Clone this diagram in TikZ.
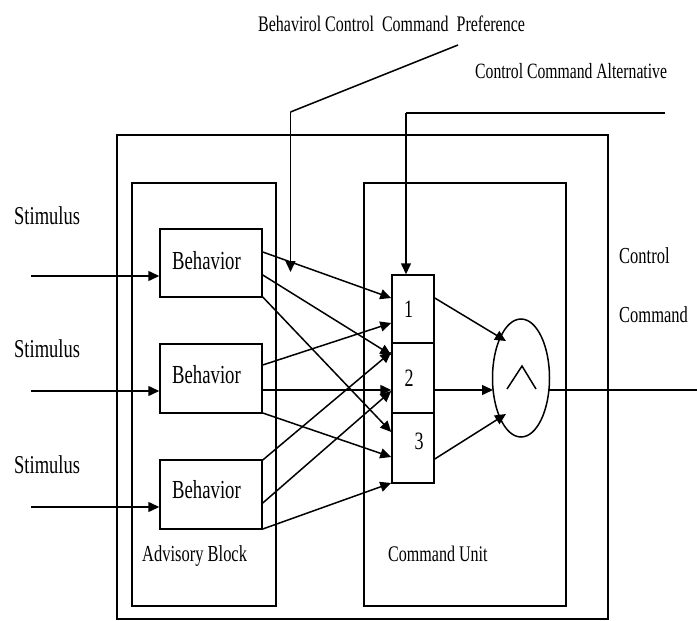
\documentclass[tikz,border=0pt]{standalone}
\usepackage{fontspec}
\setmainfont{Liberation Serif}[FakeStretch=0.72]
\usetikzlibrary{arrows.meta,calc,shapes.geometric}
\begin{document}
\begin{tikzpicture}[x=1pt,y=-1pt,
  ln/.style={line width=1.5pt,draw=black},
  arr/.style={ln,-{Triangle[length=11pt,width=10pt]}},
  boxx/.style={ln,rectangle,inner sep=0pt,minimum width=#1},
  txt/.style={inner sep=0pt,anchor=base west,font=\fontsize{#1}{#1}\selectfont,text=black}
]
\useasboundingbox (0,0) rectangle (697,621);
% containers
\node[boxx=491pt,minimum height=484pt] (outer) at (362.5,377) {};
\node[boxx=144pt,minimum height=423pt] (adv) at (204,394.5) {};
\node[boxx=202pt,minimum height=423pt] (cmd) at (465,394.5) {};
% behavior boxes
\node[boxx=102pt,minimum height=68pt] (b1) at (211,263) {};
\node[boxx=102pt,minimum height=69pt] (b2) at (211,378.5) {};
\node[boxx=102pt,minimum height=69pt] (b3) at (211,494.5) {};
% numbered boxes
\node[boxx=42pt,minimum height=68pt] (n1) at (413,309) {};
\node[boxx=42pt,minimum height=70pt] (n2) at (413,378) {};
\node[boxx=42pt,minimum height=70pt] (n3) at (413,448) {};
% ellipse
\node[ln,ellipse,inner sep=0pt,minimum width=57pt,minimum height=118pt] (and) at (521,378) {};
\draw[ln] ($(and)+(-14,11)$) -- ($(and)+(1,-12)$) -- ($(and)+(15,11)$);
% texts
\node[txt=25.7] (st1) at (14,224) {Stimulus};
\node[txt=25.7] (st2) at (14,357) {Stimulus};
\node[txt=25.7] (st3) at (14,473) {Stimulus};
\node[txt=26] (bt1) at (172,269) {Behavior};
\node[txt=26] (bt2) at (172,383) {Behavior};
\node[txt=26] (bt3) at (172,498) {Behavior};
\node[txt=22.9] (advt) at (142,561) {Advisory Block};
\node[txt=22.3] (cmdt) at (388,561) {Command Unit};
\node[txt=22.9] (cc1) at (619,263) {Control};
\node[txt=22.9] (cc2) at (619,322) {Command};
\node[txt=22.2] (pref) at (258,31) {Behavirol Control\ \ Command\ \ Preference};
\node[txt=21.8] (alt) at (475,78) {Control Command Alternative};
\node[txt=25] (t1) at (404,317) {1};
\node[txt=25] (t2) at (404.5,386) {2};
\node[txt=25] (t3) at (414.5,449) {3};
% stimulus arrows
\coordinate (s1) at (31,276);
\coordinate (s2) at (31,391);
\coordinate (s3) at (31,507);
\draw[arr] (s1) -- (b1.west |- s1);
\draw[arr] (s2) -- (b2.west |- s2);
\draw[arr] (s3) -- (b3.west |- s3);
% behavior -> command arrows
\draw[arr] (b1.east |- 0,252) -- (n1.west |- 0,298);
\draw[arr] (b1.east |- 0,275) -- (n1.west |- 0,355);
\draw[arr] (b1.east |- 0,297) -- (n1.west |- 0,432);
\draw[arr] (b2.east |- 0,365) -- (n1.west |- 0,323);
\draw[arr] (b2.east |- 0,390) -- (n1.west |- 0,390);
\draw[arr] (b2.east |- 0,413) -- (n1.west |- 0,457);
\draw[arr] (b3.east |- 0,460) -- (n1.west |- 0,352);
\draw[arr] (b3.east |- 0,503) -- (n1.west |- 0,391);
\draw[arr] (b3.east |- 0,529) -- (n1.west |- 0,483);
% to ellipse
\draw[arr] (n1.east |- 0,298) -- ($(and)+(-15,-37)$);
\draw[arr] (n2.east |- 0,390) -- ($(and)+(-28,12)$);
\draw[arr] (n3.east |- 0,459) -- ($(and)+(-15,36)$);
\coordinate (out) at (697,390);
\draw[ln] ($(and)+(28,12)$) -- (out);
% top inputs
\coordinate (p0) at (458,45);
\coordinate (p1) at (290.5,112);
\coordinate (p2) at (290.5,272);
\draw[ln] (p0) -- (p1);
\draw[arr] (p1) -- (p2);
\coordinate (a0) at (665,113);
\coordinate (a1) at (406,113);
\draw[ln] (a0) -- (a1);
\draw[arr] (a1) -- ($(n1.north)+(-7,0)$);
\end{tikzpicture}
\end{document}
